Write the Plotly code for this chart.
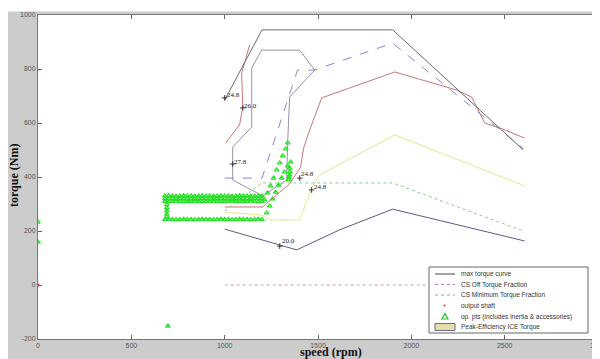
import plotly.graph_objects as go

# ---------------- data ----------------
x_ticks = [0, 500, 1000, 1500, 2000, 2500, 3000]
y_ticks = [-200, 0, 200, 400, 600, 800, 1000]
y_tick_text = ["-200", "0", "200", "400", "600", "800", "1000"]

max_speed = [1000, 1200, 1900, 2600]
max_torque = [685, 945, 945, 500]

off_speed = [1000, 2600]
off_torque = [0, 0]

min_speed = [1000, 1200, 1900, 2600]
min_torque = [274, 378, 378, 200]

dash_speed = [1000, 1200, 1390, 1480, 1900, 2600]
dash_torque = [396, 396, 796, 796, 896, 505]

red_speed = [1000, 1204, 1295, 1348, 1407, 1423, 1455, 1520, 1911, 2243, 2323, 2393, 2473, 2607]
red_torque = [289, 289, 344, 374, 437, 507, 574, 693, 789, 722, 696, 600, 582, 544]

red2_speed = [1005, 1080, 1097, 1091, 1134]
red2_torque = [526, 593, 659, 785, 889]

inner_speed = [1198, 1402, 1482, 1348, 1338, 1332, 1204, 1043, 1043, 1145, 1145, 1198]
inner_torque = [870, 870, 796, 696, 537, 389, 330, 389, 511, 585, 804, 870]

yel_speed = [1000, 1198, 1241, 1402, 1466, 1509, 1911, 2607]
yel_torque = [270, 259, 241, 241, 359, 407, 556, 367]

low_speed = [1000, 1295, 1386, 1615, 1900, 2607]
low_torque = [207, 148, 130, 204, 281, 163]

band_speed = [680, 700, 720, 740, 760, 780, 800, 820, 840, 860, 880, 900, 920, 940,
              960, 980, 1000, 1020, 1040, 1060, 1080, 1100, 1120, 1140, 1160, 1180, 1200]
band_top = [330, 331, 330, 329, 330, 331, 330, 330, 329, 330, 331, 330, 330, 329,
            330, 331, 330, 330, 329, 330, 331, 330, 330, 329, 330, 331, 330]
band_mid = [320, 321, 320, 319, 320, 321, 320, 320, 319, 320, 321, 320, 320, 319,
            320, 321, 320, 320, 319, 320, 321, 320, 320, 319, 320, 321, 320]
band_low = [310, 309, 310, 311, 310, 309, 310, 310, 311, 310, 309, 310, 310, 311,
            310, 309, 310, 310, 311, 310, 309, 310, 310, 311, 310, 309, 310]
band_bottom = [243, 244, 243, 242, 243, 244, 243, 243, 242, 243, 244, 243, 243, 242,
               243, 244, 243, 243, 242, 243, 244, 243, 243, 242, 243, 244, 243]

left_speed = [690, 690, 690, 690, 690]
left_torque = [298, 286, 274, 262, 252]

diag1_speed = [1214, 1230, 1246, 1262, 1278, 1295, 1311, 1327, 1338]
diag1_torque = [315, 341, 367, 396, 426, 452, 478, 504, 526]
diag2_speed = [1225, 1241, 1257, 1273, 1289, 1305, 1321, 1338]
diag2_torque = [267, 293, 319, 344, 370, 396, 419, 441]
blob_speed = [1343, 1348, 1348, 1354, 1350, 1345]
blob_torque = [389, 407, 433, 456, 420, 398]
iso_speed = [0, 0, 696]
iso_torque = [233, 159, -152]

shaft_speed = [0]
shaft_torque = [0]

lab_text = ["24.8", "26.0", "27.8", "20.0", "24.8", "24.8"]
lab_speed = [1048, 1139, 1086, 1343, 1446, 1511]
lab_torque = [704, 663, 456, 163, 411, 363]
plus_speed = [1000, 1097, 1043, 1295, 1402, 1466]
plus_torque = [693, 656, 448, 144, 396, 352]

legend_labels = ["max torque curve", "CS Off Torque Fraction", "CS Minimum Torque Fraction",
                 "output shaft", "op. pts (includes inertia & accessories)", "Peak-Efficiency ICE Torque"]

# ---------------- figure ----------------
fig = go.Figure()


def add_line(x, y, color, dash="solid", width=1):
    fig.add_trace(go.Scatter(x=x, y=y, mode="lines", hoverinfo="skip", showlegend=False,
                             line=dict(color=color, width=width, dash=dash)))


add_line(low_speed, low_torque, "#5a5a8e")
add_line(yel_speed, yel_torque, "#e6e690")
add_line(red_speed, red_torque, "#cc7676")
add_line(red2_speed, red2_torque, "#cc7676")
add_line(inner_speed, inner_torque, "#9892ae")
add_line(dash_speed, dash_torque, "#8686d8", dash="dash")
add_line(min_speed, min_torque, "#8ccc8c", dash="dot")
add_line(off_speed, off_torque, "#e08ac4", dash="dot")
add_line(max_speed, max_torque, "#6a6a6a")

op_speed = (band_speed + band_speed + band_speed + band_speed + left_speed
            + diag1_speed + diag2_speed + blob_speed + iso_speed)
op_torque = (band_top + band_mid + band_low + band_bottom + left_torque
             + diag1_torque + diag2_torque + blob_torque + iso_torque)
fig.add_trace(go.Scatter(x=op_speed, y=op_torque, mode="markers", hoverinfo="skip", showlegend=False,
                         marker=dict(symbol="triangle-up-open", size=4, color="#20e020",
                                     line=dict(width=1.2, color="#20e020"))))

fig.add_trace(go.Scatter(x=shaft_speed, y=shaft_torque, mode="markers", hoverinfo="skip", showlegend=False,
                         marker=dict(symbol="circle", size=3, color="#e02020")))

fig.add_trace(go.Scatter(x=plus_speed, y=plus_torque, mode="markers", hoverinfo="skip", showlegend=False,
                         marker=dict(symbol="cross-thin", size=4, color="#333",
                                     line=dict(width=1, color="#333"))))

for t, sx, sy in zip(lab_text, lab_speed, lab_torque):
    fig.add_annotation(x=sx, y=sy, text=t, showarrow=False, xref="x", yref="y",
                       font=dict(family="Liberation Serif", size=7, color="#222"))

# ---------------- layout helpers ----------------
# the page body has an 8px margin, so the figure is drawn 8px right/down in the window
OFF = 8
FW, FH = 600 - OFF, 359 - OFF
L, T, W, H = 38, 15, 560, 324   # plot area in window pixels


def px(xp):
    return (xp - L) / W


def py(yp):
    return (T + H - yp) / H


shapes = []
# white strip along the top of the window
shapes.append(dict(type="rect", xref="paper", yref="paper", x0=px(0), x1=px(600), y0=py(11.5), y1=py(0),
                   fillcolor="white", line=dict(width=0), layer="below"))

# legend box
shapes.append(dict(type="rect", xref="paper", yref="paper", x0=px(429), x1=px(588), y0=py(333), y1=py(267),
                   fillcolor="white", line=dict(color="#666", width=1)))
rows = [274, 284.5, 295, 305.5, 316.5, 327]
shapes.append(dict(type="line", xref="paper", yref="paper", x0=px(435), x1=px(455), y0=py(rows[0]), y1=py(rows[0]),
                   line=dict(color="#444", width=1)))
shapes.append(dict(type="line", xref="paper", yref="paper", x0=px(435), x1=px(455), y0=py(rows[1]), y1=py(rows[1]),
                   line=dict(color="#c070b0", width=1, dash="dot")))
shapes.append(dict(type="line", xref="paper", yref="paper", x0=px(435), x1=px(455), y0=py(rows[2]), y1=py(rows[2]),
                   line=dict(color="#70c070", width=1, dash="dot")))
shapes.append(dict(type="circle", xref="paper", yref="paper", x0=px(443.5), x1=px(445.5),
                   y0=py(rows[3] + 1), y1=py(rows[3] - 1), fillcolor="#e02020", line=dict(width=0)))
shapes.append(dict(type="path", xref="paper", yref="paper",
                   path="M {} {} L {} {} L {} {} Z".format(px(442), py(rows[4] + 2.5), px(448), py(rows[4] + 2.5),
                                                       px(445), py(rows[4] - 3)),
                   fillcolor="rgba(0,0,0,0)", line=dict(color="#22c022", width=1.2)))
shapes.append(dict(type="rect", xref="paper", yref="paper", x0=px(435), x1=px(455),
                   y0=py(rows[5] + 3.5), y1=py(rows[5] - 3.5), fillcolor="#e6deaa",
                   line=dict(color="#6a6e92", width=1)))

annotations = []
for lab, r in zip(legend_labels, rows):
    annotations.append(dict(x=px(459), y=py(r), xref="paper", yref="paper", text=lab, showarrow=False,
                            xanchor="left", yanchor="middle",
                            font=dict(family="Liberation Sans", size=6.5, color="#333")))
annotations.append(dict(x=px(331), y=py(352), xref="paper", yref="paper", text="<b>speed (rpm)</b>",
                        showarrow=False, xanchor="center", yanchor="middle",
                        font=dict(family="Liberation Serif", size=12, color="#111")))
annotations.append(dict(x=px(14), y=py(176), xref="paper", yref="paper", text="<b>torque (Nm)</b>",
                        showarrow=False, xanchor="center", yanchor="middle", textangle=-90,
                        font=dict(family="Liberation Serif", size=12, color="#111")))

for a in annotations:
    fig.add_annotation(**a)

axis_common = dict(showline=True, linecolor="#777", linewidth=1, mirror="ticks", ticks="inside",
                   ticklen=4, tickcolor="#666", showgrid=False, zeroline=False, automargin=False,
                   tickfont=dict(family="Liberation Sans", size=7, color="#555"))

fig.update_layout(
    width=FW, height=FH,
    margin=dict(l=L - OFF, r=OFF + FW - (L + W), t=T - OFF, b=OFF + FH - (T + H), autoexpand=False),
    paper_bgcolor="#cccccc", plot_bgcolor="white",
    showlegend=False, shapes=shapes,
    xaxis=dict(range=[0, 3000], tickvals=x_ticks, ticklabeloverflow="allow", **axis_common),
    yaxis=dict(range=[-200, 1000], tickvals=y_ticks, ticktext=y_tick_text, **axis_common),
)

fig.write_html("out.html")
